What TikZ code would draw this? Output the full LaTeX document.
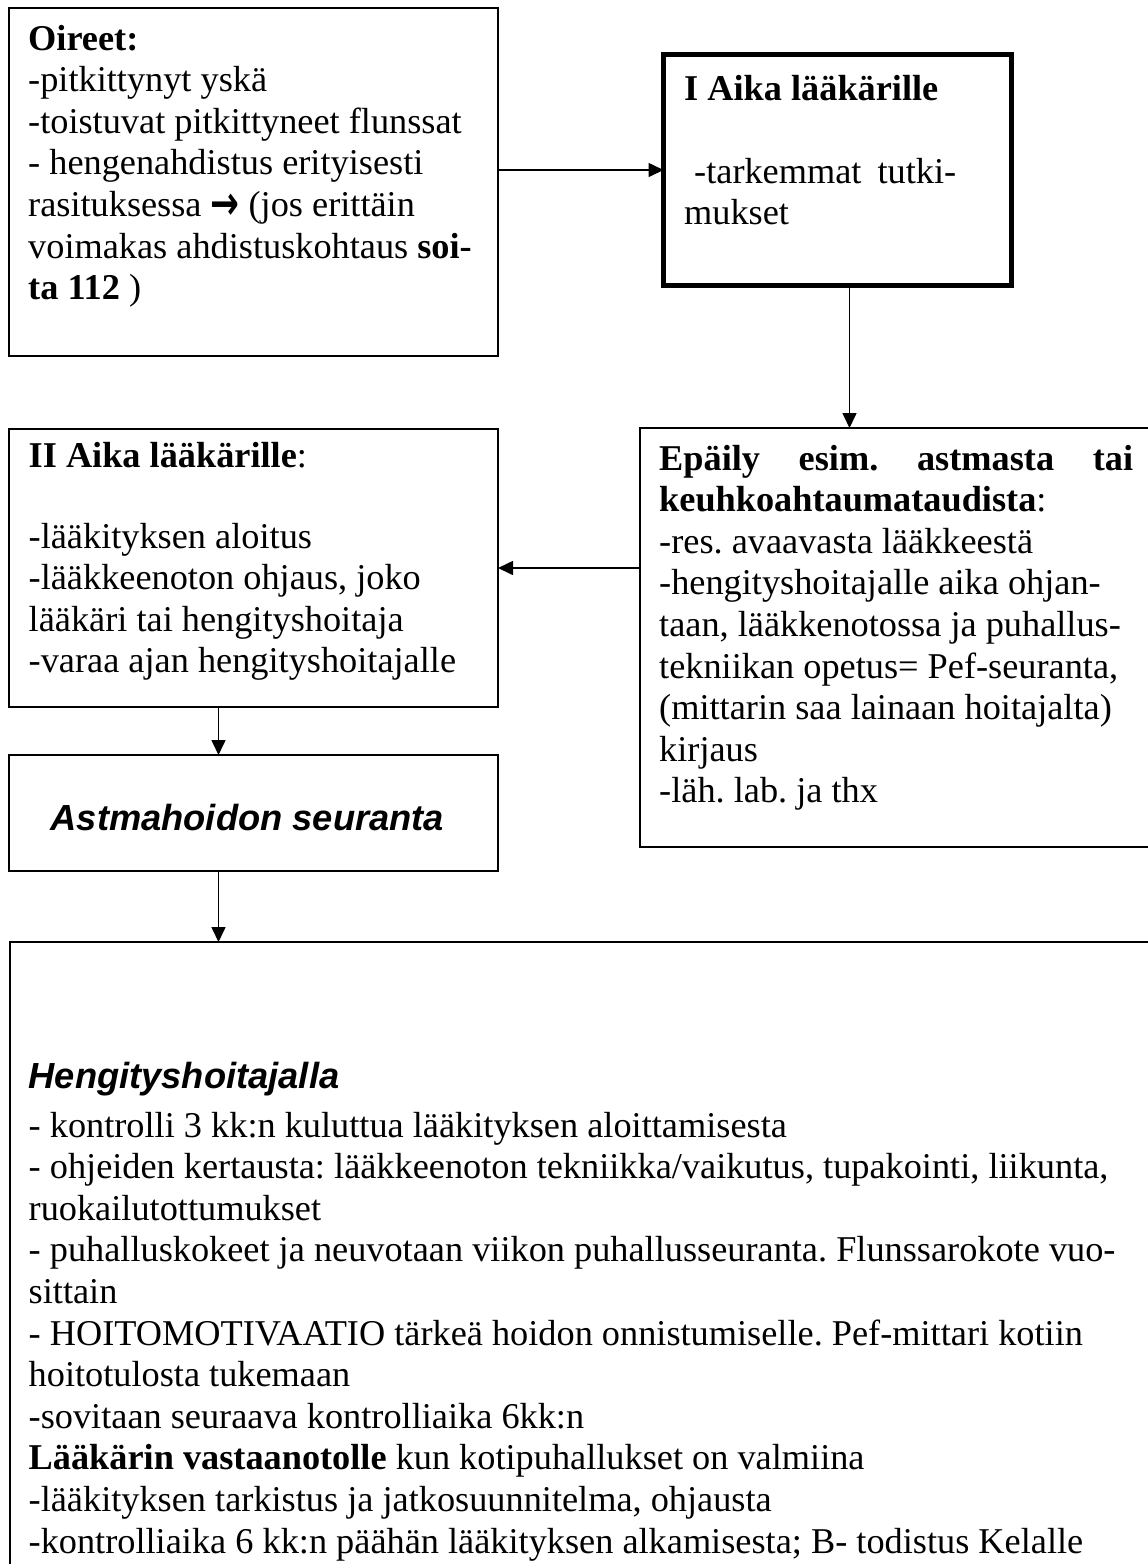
\documentclass[tikz,border=0pt]{standalone}
\usepackage{fontspec}
\setmainfont{Liberation Serif}
\newfontfamily\arialfont{Liberation Sans}
\newfontfamily\dejavufont{DejaVu Sans}
\usetikzlibrary{arrows.meta}

\begin{document}
\begin{tikzpicture}[x=1pt, y=-1pt,
	box/.style={draw, line width=1.8pt, outer sep=0pt, inner sep=0pt, anchor=north west},
	thickbox/.style={box, line width=5pt},
	txt/.style={anchor=base west, inner sep=0pt, align=left, text width=#1,
		font=\fontsize{36.3}{41.6}\selectfont,
		execute at begin node={\spaceskip=0pt\xspaceskip=0pt\frenchspacing}},
	head/.style={anchor=base west, inner sep=0pt,
		font=\arialfont\bfseries\itshape\fontsize{36.3}{41.6}\selectfont},
	link/.style={line width=1.6pt, -{Triangle[length=15pt,width=14pt]}}]
	\useasboundingbox (0,0) rectangle (1148,1564);
	\clip (0,0) rectangle (1148,1564);

	\node [box, minimum width=489pt, minimum height=348pt] (oir) at (9,8) {};
	\node [thickbox, minimum width=348pt, minimum height=231pt] (aika1) at (663.5,54.5) {};
	\node [box, minimum width=540pt, minimum height=419pt] (epa) at (640,428) {};
	\node [box, minimum width=489pt, minimum height=278pt] (aika2) at (9,429) {};
	\node [box, minimum width=489pt, minimum height=116pt] (seur) at (9,755) {};
	\node [box, minimum width=1160pt, minimum height=700pt] (hoit) at (10,942) {};

	\node [txt=470pt] (oirtxt) at (28,50) {\textbf{Oireet:}\\
		-pitkittynyt yskä\\
		-toistuvat pitkittyneet flunssat\\
		- hengenahdistus erityisesti\\
		rasituksessa \raisebox{-3pt}{\scalebox{0.95}[1.3]{\dejavufont\bfseries →}} (jos erittäin\\
		voimakas ahdistuskohtaus \textbf{soi-}\\
		\textbf{ta 112} )};

	\node [txt=310pt] (aika1txt) at (684,100) {\textbf{I Aika lääkärille}\\[41.6pt]
		\hspace*{10pt}\makebox[262pt][s]{-tarkemmat \hfill tutki-}\\
		mukset};

	\node [txt=480pt] (epatxt) at (659,470) {\makebox[474pt][s]{\textbf{Epäily \hfill esim. \hfill astmasta \hfill tai}}\\
		\textbf{keuhkoahtaumataudista}:\\
		-res. avaavasta lääkkeestä\\
		-hengityshoitajalle aika ohjan-\\
		taan, lääkkenotossa ja puhallus-\\
		tekniikan opetus= Pef-seuranta,\\
		(mittarin saa lainaan hoitajalta)\\
		kirjaus\\
		-läh. lab. ja thx};

	\node [txt=460pt] (aika2txt) at (28.5,467) {\textbf{II Aika lääkärille}:\\[39.5pt]
		-lääkityksen aloitus\\
		-lääkkeenoton ohjaus, joko\\
		lääkäri tai hengityshoitaja\\
		-varaa ajan hengityshoitajalle};

	\node [head] (seurtxt) at (50.5,830) {Astmahoidon seuranta};

	\node [head] (hoithead) at (28.5,1088) {Hengityshoitajalla};
	\node [txt=1110pt] (hoittxt) at (28.5,1137) {- kontrolli 3 kk:n kuluttua lääkityksen aloittamisesta\\
		- ohjeiden kertausta: lääkkeenoton tekniikka/vaikutus, tupakointi, liikunta,\\
		ruokailutottumukset\\
		- puhalluskokeet ja neuvotaan viikon puhallusseuranta. Flunssarokote vuo-\\
		sittain\\
		- HOITOMOTIVAATIO tärkeä hoidon onnistumiselle. Pef-mittari kotiin\\
		hoitotulosta tukemaan\\
		-sovitaan seuraava kontrolliaika 6kk:n\\
		\textbf{Lääkärin vastaanotolle} kun kotipuhallukset on valmiina\\
		-lääkityksen tarkistus ja jatkosuunnitelma, ohjausta\\
		-kontrolliaika 6 kk:n päähän lääkityksen alkamisesta; B- todistus Kelalle};

	\draw [link] (oir.east |- aika1.west) -- (aika1.west);
	\draw [link] ([xshift=12pt]aika1.south) -- ([xshift=12pt]aika1.south |- epa.north);
	\draw [link] (epa.west |- aika2.east) -- (aika2.east);
	\draw [link] ([xshift=-35pt]aika2.south) -- ([xshift=-35pt]aika2.south |- seur.north);
	\draw [link] ([xshift=-35pt]seur.south) -- ([xshift=-35pt]seur.south |- hoit.north);
\end{tikzpicture}
\end{document}
